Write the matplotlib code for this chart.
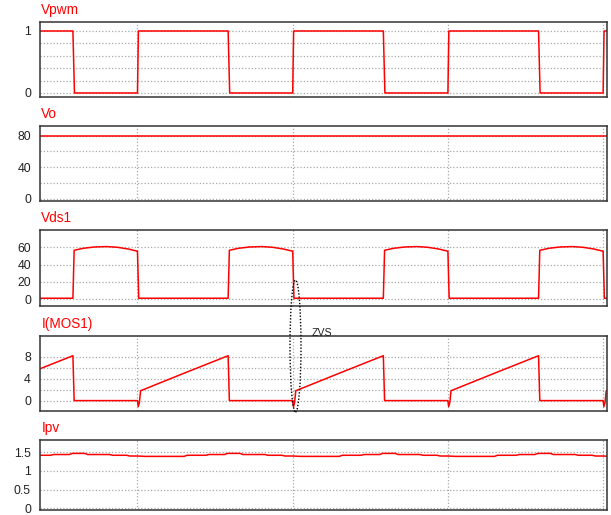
#!/usr/bin/env python
# Boost converter switching waveforms: gate signal, output voltage,
# switch voltage, switch current (ZVS turn-on) and input (PV) current.

from matplotlib import use as mplUse
mplUse('Agg')
from matplotlib import pyplot as plt
from matplotlib.patches import Ellipse

T = 10.0            # switching period, us
periods = [-1, 0, 1, 2, 3]
tMin, tMax = -6.28, 30.25
gridTimes = [0, 10, 20, 30]

# one switching period of each waveform: phase (0..1) and value
vpwmPhase = [0.0, 0.006, 0.584, 0.594, 1.0]
vpwmLevel = [0.0, 1.0, 1.0, 0.0, 0.0]

voLevel = 80.0

vdsPhase = [0.0, 0.008, 0.584, 0.592, 0.65, 0.72, 0.80, 0.87, 0.94, 0.998]
vdsLevel = [55.5, 1.0, 1.0, 56.5, 58.8, 60.3, 60.8, 60.0, 58.0, 55.5]

imosPhase = [0.0, 0.005, 0.012, 0.02, 0.30, 0.584, 0.592, 0.998]
imosLevel = [0.0, -1.1, -0.4, 1.8, 5.0, 8.2, 0.0, 0.0]

ipvPhase = [0.0, 0.05, 0.30, 0.32, 0.44, 0.46, 0.56, 0.58, 0.66, 0.68, 0.82, 0.84, 0.93, 0.95]
ipvLevel = [1.40, 1.39, 1.39, 1.42, 1.42, 1.44, 1.44, 1.47, 1.47, 1.44, 1.44, 1.42, 1.42, 1.40]

RED = '#ff0000'
GRIDCOLOR = '#a8a8a8'
FONT = 'Liberation Sans'

W, H = 611., 515.


def tile(phase, level):
    t = []
    v = []
    for k in periods:
        for p, val in zip(phase, level):
            t.append((k + p) * T)
            v.append(val)
    return t, v


def axRect(top, bottom):
    return [40 / W, 1 - bottom / H, 567 / W, (bottom - top) / H]


def makePanel(fig, top, bottom, title, ylim, labelTicks, gridTicks, labelFmt):
    ax = fig.add_axes(axRect(top, bottom))
    ax.set_xlim(tMin, tMax)
    ax.set_ylim(*ylim)
    ax.set_xticks(gridTimes)
    ax.set_xticklabels([])
    ax.set_yticks(labelTicks)
    ax.set_yticklabels([labelFmt(v) for v in labelTicks], fontfamily=FONT, fontsize=8.8, color='#222222')
    ax.set_yticks(gridTicks, minor=True)
    ax.tick_params(which='both', length=0)
    ax.tick_params(axis='y', pad=6.5)
    ax.grid(True, which='both', linestyle=(0, (1, 1.6)), color=GRIDCOLOR, linewidth=0.9)
    ax.set_axisbelow(True)
    for s in ax.spines.values():
        s.set_color('#333333')
        s.set_linewidth(1.1)
    ax.annotate(title, xy=(0, 1), xycoords='axes fraction', xytext=(1, 3.5),
                textcoords='offset points', ha='left', va='bottom',
                color=RED, fontfamily=FONT, fontsize=9.8)
    return ax


def fmt(v):
    return ('%g' % v)


fig = plt.figure(figsize=(6.11, 5.15), dpi=100)

ax1 = makePanel(fig, 22, 97, 'Vpwm', (-0.065, 1.145), [0, 1], [0.2, 0.4, 0.6, 0.8], fmt)
t, v = tile(vpwmPhase, vpwmLevel)
ax1.plot(t, v, color=RED, lw=1.1)

ax2 = makePanel(fig, 126, 201, 'Vo', (-2.9, 92.3), [0, 40, 80], [20, 60], fmt)
ax2.plot([tMin, tMax], [voLevel, voLevel], color=RED, lw=1.1)

ax3 = makePanel(fig, 230, 306, 'Vds1', (-8, 80), [0, 20, 40, 60], [], fmt)
t, v = tile(vdsPhase, vdsLevel)
ax3.plot(t, v, color=RED, lw=1.1)

ax4 = makePanel(fig, 336, 411, 'I(MOS1)', (-1.9, 11.8), [0, 4, 8], [2, 6], fmt)
t, v = tile(imosPhase, imosLevel)
ax4.plot(t, v, color=RED, lw=1.1)

ax5 = makePanel(fig, 440, 510, 'Ipv', (-0.05, 1.83), [0, 0.5, 1, 1.5], [], fmt)
t, v = tile(ipvPhase, ipvLevel)
ax5.plot(t, v, color=RED, lw=1.1)

# ZVS marker around the turn-on edge
zvs = Ellipse((295.5 / W, 1 - 346 / H), 11 / W, 132 / H, transform=fig.transFigure,
              fill=False, edgecolor='black', linestyle=(0, (1, 1.3)), linewidth=1.0)
fig.add_artist(zvs)
fig.text(311.5 / W, 1 - 335.5 / H, 'ZVS', fontfamily=FONT, fontsize=7.6,
         color='#222222', ha='left', va='baseline')

fig.savefig('out.png', dpi=100)
plt.close(fig)
